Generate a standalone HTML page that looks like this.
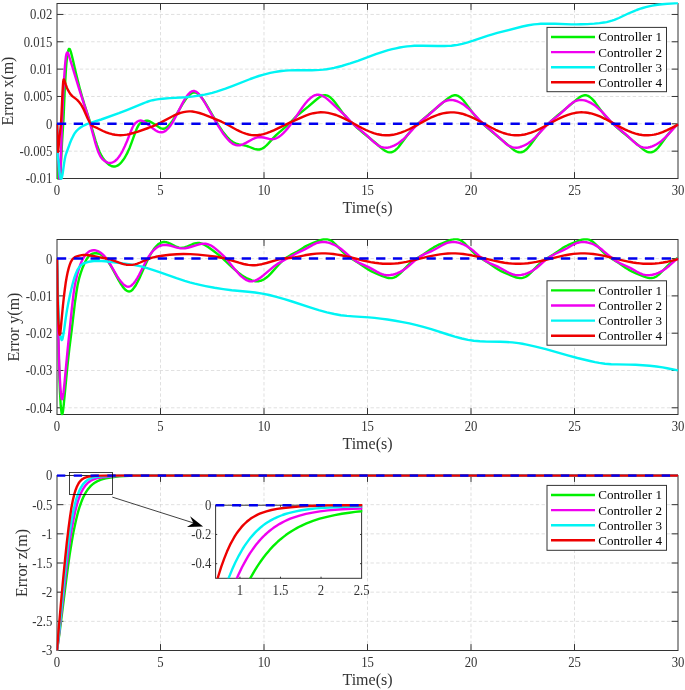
<!DOCTYPE html>
<html><head><meta charset="utf-8"><title>Tracking errors</title>
<style>html,body{margin:0;padding:0;background:#fff}body{width:685px;height:690px;overflow:hidden}</style></head>
<body>
<svg width="685" height="690" viewBox="0 0 685 690" style="display:block;font-family:'Liberation Serif',serif">
<rect width="685" height="690" fill="#fff"/>
<defs>
<clipPath id="cp0"><rect x="56.50" y="2.30" width="622.50" height="177.40"/></clipPath>
<clipPath id="cp1"><rect x="56.50" y="238.30" width="622.50" height="177.40"/></clipPath>
<clipPath id="cp2"><rect x="56.50" y="474.30" width="622.50" height="177.40"/></clipPath>
<clipPath id="cpi"><rect x="215.10" y="503.90" width="147.20" height="74.40"/></clipPath>
</defs>
<path d="M160.50 3.50V178.50M264.00 3.50V178.50M367.50 3.50V178.50M471.00 3.50V178.50M574.50 3.50V178.50M57.00 14.44H678.00M57.00 41.78H678.00M57.00 69.12H678.00M57.00 96.47H678.00M57.00 123.81H678.00M57.00 151.16H678.00" stroke="#d2d2d2" stroke-width="0.7" stroke-dasharray="3.4 2.3" fill="none"/>
<rect x="57.00" y="3.50" width="621.00" height="175.00" fill="none" stroke="#333333" stroke-width="1"/>
<path d="M160.50 178.50v-6.4M160.50 3.50v6.4M264.00 178.50v-6.4M264.00 3.50v6.4M367.50 178.50v-6.4M367.50 3.50v6.4M471.00 178.50v-6.4M471.00 3.50v6.4M574.50 178.50v-6.4M574.50 3.50v6.4M57.00 14.44h6.4M678.00 14.44h-6.4M57.00 41.78h6.4M678.00 41.78h-6.4M57.00 69.12h6.4M678.00 69.12h-6.4M57.00 96.47h6.4M678.00 96.47h-6.4M57.00 123.81h6.4M678.00 123.81h-6.4M57.00 151.16h6.4M678.00 151.16h-6.4" stroke="#333333" stroke-width="1" fill="none"/>
<g clip-path="url(#cp0)" fill="none" stroke-width="2.40" stroke-linejoin="round">
<path d="M57.0 123.8L58.0 165.8L58.5 181.0L59.0 190.0L59.2 192.0L59.5 191.8L59.7 189.3L60.0 185.1L61.0 163.0L62.0 143.0L63.5 119.2L64.7 91.1L65.7 73.1L66.4 63.4L66.9 58.5L67.4 54.6L68.2 50.7L68.7 49.4L68.9 49.0L69.2 48.9L69.4 48.9L69.7 49.1L70.2 50.1L70.7 51.4L71.2 53.1L72.7 59.0L75.9 73.0L77.9 81.1L80.1 89.7L82.1 96.8L84.3 104.2L90.1 122.2L95.5 140.5L97.0 145.1L98.3 148.6L99.7 152.2L101.5 155.7L103.2 158.5L105.0 160.8L106.0 161.9L107.2 163.1L108.4 164.2L109.4 164.9L110.4 165.5L111.4 166.0L112.4 166.3L113.4 166.5L114.9 166.5L116.1 166.2L117.4 165.6L118.9 164.7L120.1 163.6L121.6 162.0L123.1 160.1L124.6 157.9L125.8 155.7L127.1 153.4L128.3 150.8L129.6 147.9L131.5 142.9L135.3 132.4L137.0 128.1L137.8 126.6L138.5 125.3L139.3 124.3L140.0 123.5L140.7 122.9L141.5 122.5L145.0 121.0L146.5 120.7L147.7 120.7L149.2 121.1L150.9 122.0L154.2 124.0L159.1 127.3L160.1 127.9L161.1 128.3L162.4 128.7L163.6 128.7L164.6 128.5L165.8 128.0L167.3 126.9L168.8 125.4L170.3 123.7L172.1 121.4L175.3 116.4L183.2 103.0L185.2 100.0L187.0 97.6L189.0 95.4L190.7 93.8L191.7 93.2L192.4 92.9L193.2 92.6L193.9 92.5L194.9 92.5L195.7 92.6L196.7 93.0L197.7 93.6L198.6 94.4L199.6 95.3L200.6 96.4L201.9 97.9L203.9 100.7L206.3 104.6L216.3 121.6L218.5 125.3L220.8 128.7L223.2 132.3L225.5 135.1L227.7 137.7L229.7 139.6L231.4 141.1L232.9 142.1L234.4 142.9L236.2 143.6L238.9 144.4L244.1 145.4L246.4 145.9L248.3 146.5L254.3 148.8L256.0 149.3L257.8 149.5L259.5 149.5L261.3 149.0L263.0 148.2L265.0 146.7L266.5 145.4L268.0 143.9L273.9 137.4L276.4 134.8L279.2 132.3L285.4 127.1L287.9 124.9L290.1 122.8L295.3 117.4L297.8 115.0L308.5 106.4L315.9 100.0L318.4 98.0L320.2 96.8L321.7 96.0L323.1 95.5L324.6 95.2L325.6 95.3L326.4 95.4L327.4 95.6L328.1 96.0L329.9 97.0L331.8 98.8L333.3 100.4L335.1 102.5L342.0 112.0L344.0 114.6L345.8 116.6L348.0 119.1L350.2 121.3L353.0 123.9L356.9 127.5L363.6 133.3L373.8 141.5L380.8 147.5L383.0 149.3L384.8 150.6L386.5 151.5L388.0 152.1L389.5 152.4L390.5 152.4L391.2 152.3L392.2 152.0L393.0 151.7L394.7 150.7L395.7 149.9L396.7 149.0L398.2 147.5L399.9 145.3L407.1 135.5L409.1 133.0L411.1 130.6L413.3 128.2L415.6 126.0L422.3 119.9L428.8 114.3L438.9 106.0L445.7 100.2L447.9 98.4L449.6 97.2L451.4 96.2L452.9 95.6L454.4 95.3L455.3 95.2L456.3 95.3L457.3 95.6L458.1 95.9L459.8 97.0L461.8 98.7L463.3 100.3L465.0 102.4L472.2 112.2L474.2 114.8L476.0 116.8L478.2 119.3L480.4 121.5L483.2 124.0L487.4 127.8L493.9 133.4L503.8 141.5L510.8 147.4L513.0 149.3L514.7 150.5L516.2 151.4L517.7 152.0L519.2 152.3L520.2 152.4L520.9 152.3L522.4 152.0L523.2 151.7L524.2 151.1L525.9 149.8L527.9 147.8L529.9 145.5L536.9 136.0L539.8 132.2L542.8 128.8L546.3 125.3L550.8 121.3L557.5 115.4L569.2 105.9L577.4 98.9L579.1 97.6L580.8 96.5L582.3 95.8L583.8 95.4L584.8 95.2L585.6 95.2L586.3 95.3L587.3 95.6L588.0 95.9L589.0 96.4L590.0 97.1L591.0 97.9L592.8 99.6L594.8 101.9L596.7 104.6L601.7 111.4L604.7 115.3L607.7 118.6L610.9 121.9L615.4 126.0L622.3 132.0L626.1 135.2L634.0 141.6L642.0 148.4L643.7 149.8L645.2 150.8L646.7 151.6L647.9 152.0L649.2 152.3L650.2 152.4L651.2 152.3L652.2 152.1L653.2 151.7L654.1 151.2L655.1 150.5L656.4 149.5L658.1 147.7L660.1 145.3L666.8 136.1L670.0 132.0L671.8 130.0L673.8 127.9L678.0 123.8" stroke="#00f000"/>
<path d="M57.0 123.8L57.5 141.9L58.0 154.8L59.0 172.4L59.5 179.7L59.7 181.7L60.0 181.3L60.2 178.1L60.5 172.5L61.7 131.4L62.5 110.3L63.2 93.7L64.0 79.7L65.0 65.4L65.7 58.3L65.9 56.6L66.4 54.2L66.9 52.9L67.2 52.6L67.4 52.5L67.7 52.7L68.2 53.5L68.9 55.5L79.4 89.8L87.6 115.2L90.3 124.5L95.3 142.8L96.8 147.7L98.0 151.2L99.0 153.6L100.2 156.1L101.5 158.0L102.7 159.4L104.2 160.7L106.0 161.8L107.7 162.6L109.2 162.9L110.7 162.9L111.9 162.6L113.4 162.0L114.7 161.3L116.1 160.0L117.4 158.8L118.6 157.3L119.9 155.5L121.1 153.5L122.4 151.3L124.8 146.2L127.1 141.0L130.8 131.5L132.5 127.5L133.5 125.7L134.3 124.5L135.0 123.5L136.0 122.6L137.5 121.5L138.5 121.0L139.3 120.7L140.0 120.6L140.7 120.5L141.5 120.6L142.2 120.8L143.7 121.4L145.7 122.7L147.7 124.2L153.7 129.1L155.7 130.5L157.4 131.4L158.4 131.8L159.4 132.1L160.4 132.3L161.1 132.3L162.1 132.2L162.9 132.1L163.6 131.8L164.6 131.4L166.3 130.2L168.1 128.5L169.8 126.5L171.8 123.6L173.3 121.1L175.0 118.0L180.8 106.6L182.7 102.9L184.7 99.4L186.7 96.3L188.5 94.1L190.2 92.4L191.2 91.8L191.9 91.4L192.7 91.1L193.4 91.0L194.2 91.0L195.2 91.3L195.9 91.6L196.9 92.2L197.9 93.1L198.9 94.1L199.9 95.3L201.1 96.9L203.1 99.9L205.6 104.0L215.3 120.9L219.0 127.1L222.7 132.9L226.0 137.2L227.5 139.0L229.0 140.6L230.5 142.0L231.9 143.2L233.4 144.1L234.7 144.7L235.9 145.1L237.4 145.4L238.7 145.4L239.9 145.2L241.4 144.9L242.9 144.3L245.9 142.9L251.1 140.0L253.3 138.8L255.6 137.9L257.5 137.3L259.5 137.1L261.5 137.2L263.5 137.5L269.2 138.9L270.7 139.1L272.2 139.2L273.7 139.0L275.4 138.6L276.9 138.0L278.7 137.0L280.9 135.4L283.1 133.4L285.4 131.0L287.9 128.1L290.1 125.2L292.3 122.1L299.8 111.1L302.5 107.2L305.3 103.6L307.7 100.7L310.2 98.3L311.5 97.3L312.7 96.4L313.9 95.7L315.2 95.1L316.4 94.8L317.4 94.7L318.4 94.7L319.7 94.9L320.7 95.1L321.9 95.6L323.1 96.2L324.4 96.9L327.1 98.9L330.8 102.1L343.3 113.8L346.3 116.7L350.7 121.5L353.5 124.2L356.4 126.8L362.4 131.6L365.1 133.9L367.9 136.4L372.8 141.1L374.8 142.8L377.6 144.9L378.8 145.7L380.0 146.4L381.0 146.8L382.3 147.2L383.5 147.5L384.8 147.6L386.5 147.7L388.2 147.5L390.0 147.1L392.0 146.4L394.0 145.6L396.0 144.6L397.9 143.4L399.9 142.0L402.7 139.8L405.4 137.3L408.1 134.4L414.6 127.3L418.3 123.6L421.5 120.8L427.5 116.0L430.2 113.7L432.7 111.4L437.7 106.7L439.9 104.7L442.4 102.8L443.7 102.0L444.9 101.3L446.2 100.8L447.1 100.5L448.4 100.2L449.6 100.0L451.4 100.0L453.1 100.1L454.8 100.5L456.8 101.1L458.8 102.0L460.8 103.0L462.8 104.1L464.8 105.5L467.5 107.7L470.5 110.4L473.0 113.0L479.7 120.4L483.4 124.1L486.7 126.9L492.4 131.5L495.1 133.8L504.8 142.7L507.3 144.7L508.5 145.5L509.8 146.2L512.0 147.1L513.2 147.4L514.5 147.6L516.2 147.7L518.0 147.5L519.7 147.2L521.7 146.5L523.7 145.7L525.9 144.6L527.9 143.5L529.9 142.1L532.6 139.9L535.6 137.1L538.1 134.5L544.6 127.4L548.3 123.7L551.5 120.8L557.5 116.1L560.2 113.8L569.7 105.0L572.1 103.1L573.4 102.2L574.6 101.5L576.9 100.6L577.9 100.3L579.1 100.1L580.8 99.9L582.6 100.1L584.6 100.4L586.6 101.0L588.5 101.8L590.8 102.9L593.0 104.2L595.0 105.6L597.7 107.8L600.5 110.3L603.0 112.9L610.4 121.1L612.9 123.5L615.1 125.6L625.1 133.7L627.8 136.2L633.3 141.3L636.0 143.7L637.7 145.0L639.5 146.0L641.2 146.8L643.0 147.4L644.7 147.6L646.4 147.7L648.2 147.5L650.2 147.0L652.2 146.4L654.4 145.4L656.6 144.3L658.6 143.0L660.4 141.8L661.8 140.6L665.1 137.7L668.1 134.6L674.5 127.5L678.0 124.0" stroke="#f000f0"/>
<path d="M57.0 123.8L57.5 151.6L57.7 157.2L58.0 158.9L58.2 159.4L58.5 160.7L59.5 171.9L60.0 176.2L60.5 178.4L60.7 178.9L61.0 179.1L61.2 179.0L61.5 178.6L61.7 178.0L62.2 176.1L62.7 173.3L64.2 162.6L64.7 159.6L65.4 156.2L66.4 153.0L69.9 143.3L71.4 139.6L72.7 137.0L73.9 134.6L75.1 132.7L76.6 130.8L78.1 129.4L80.1 127.8L82.1 126.5L84.3 125.3L86.8 124.2L90.5 122.9L101.2 119.5L118.9 113.2L126.8 110.1L143.2 103.3L146.7 102.0L149.9 100.9L152.7 100.2L155.7 99.6L158.9 99.1L162.6 98.7L169.6 98.1L185.5 97.2L193.4 96.4L200.9 95.3L204.6 94.6L208.1 93.8L212.3 92.8L216.5 91.6L221.0 90.2L225.5 88.7L232.9 85.9L250.3 79.0L254.8 77.4L258.8 76.0L262.8 74.8L266.5 73.8L270.2 72.9L274.2 72.1L277.9 71.5L281.6 71.0L285.4 70.6L289.1 70.4L296.1 70.2L312.0 70.2L315.9 70.1L319.7 69.9L323.1 69.6L326.6 69.2L330.3 68.6L334.1 67.9L337.8 67.0L341.8 66.0L346.0 64.7L350.2 63.4L357.9 60.8L375.8 54.2L384.3 51.4L388.2 50.2L392.2 49.2L396.0 48.3L399.7 47.5L403.4 46.9L407.1 46.4L410.6 46.1L414.3 45.8L418.1 45.7L422.3 45.7L437.9 46.0L444.7 46.0L448.1 45.9L451.4 45.7L454.6 45.3L457.6 44.9L462.3 43.9L467.8 42.4L473.2 40.7L488.1 35.6L492.4 34.3L497.3 32.9L522.4 26.5L528.4 25.3L533.9 24.4L537.3 24.1L540.8 23.8L544.6 23.7L548.3 23.6L555.0 23.7L571.6 24.4L576.4 24.4L581.1 24.3L587.5 24.1L594.3 23.6L599.5 23.1L603.9 22.5L606.7 22.1L609.4 21.4L611.9 20.7L614.4 19.9L618.9 18.0L628.3 13.5L633.5 11.3L636.7 10.0L639.7 8.9L642.7 8.0L645.7 7.2L648.9 6.4L652.4 5.6L655.9 5.0L659.6 4.5L667.3 3.7L678.0 3.0" stroke="#00f4f4"/>
<path d="M57.0 123.8L57.5 144.0L57.7 149.7L58.0 151.9L58.2 151.1L59.7 135.5L60.7 126.4L61.0 123.2L61.5 114.1L62.5 92.3L63.0 84.2L63.2 81.7L63.5 80.1L63.7 79.4L64.0 79.4L64.2 79.8L65.7 84.4L66.9 87.7L67.9 89.9L69.2 92.2L70.4 94.1L71.7 95.5L72.9 96.6L75.9 98.9L77.4 100.1L79.1 102.0L80.6 103.9L82.1 106.4L83.6 109.3L87.8 118.7L89.1 121.3L90.3 123.5L91.5 125.0L92.5 125.9L93.5 126.5L97.5 128.2L103.0 131.0L106.2 132.4L109.2 133.4L112.2 134.2L115.1 134.8L118.1 135.1L120.4 135.2L122.4 135.1L124.6 134.9L126.8 134.6L129.1 134.2L131.5 133.5L137.3 131.8L148.2 128.0L151.9 126.6L155.4 125.1L160.6 122.6L172.1 116.5L174.8 115.2L177.5 114.0L180.5 112.9L183.5 112.1L186.5 111.6L189.2 111.4L190.7 111.4L192.4 111.5L195.7 112.1L199.4 113.0L203.6 114.4L214.3 118.6L221.5 121.7L226.7 124.3L237.4 130.2L239.9 131.4L242.4 132.5L245.6 133.7L248.6 134.5L251.6 135.1L254.3 135.3L257.3 135.2L260.3 134.8L263.5 134.1L266.7 133.1L270.0 131.9L273.7 130.3L289.8 122.6L302.8 116.8L305.7 115.6L309.7 114.2L313.5 113.2L317.2 112.6L320.7 112.3L324.4 112.4L328.1 112.9L332.1 113.8L336.1 115.0L340.0 116.6L344.5 118.6L349.0 121.0L361.9 128.0L365.9 130.0L369.4 131.5L373.6 133.1L377.8 134.3L381.8 135.0L385.5 135.3L389.2 135.2L393.0 134.8L396.9 133.9L400.9 132.7L405.1 131.0L409.6 129.0L414.1 126.6L426.8 119.7L430.7 117.7L434.5 116.1L438.7 114.5L442.7 113.4L446.6 112.7L450.4 112.4L454.1 112.4L456.1 112.6L458.1 112.9L462.1 113.7L466.0 115.0L470.3 116.6L474.7 118.7L479.2 121.0L491.6 127.8L495.6 129.8L499.1 131.4L503.3 133.0L507.3 134.1L511.0 134.9L514.7 135.2L516.7 135.3L518.7 135.2L520.7 135.1L522.7 134.8L524.7 134.5L526.9 133.9L531.1 132.6L535.4 131.0L539.8 128.9L544.3 126.5L556.7 119.8L560.5 117.9L563.9 116.3L567.9 114.8L571.9 113.6L575.6 112.8L579.3 112.4L581.3 112.3L583.6 112.4L585.6 112.5L587.8 112.8L589.8 113.2L592.0 113.7L594.3 114.3L596.5 115.1L600.5 116.7L604.9 118.8L609.4 121.1L621.3 127.6L624.8 129.4L628.1 130.9L631.8 132.4L635.5 133.6L639.0 134.5L642.2 135.0L644.2 135.2L646.2 135.3L648.2 135.3L650.2 135.1L652.2 134.9L654.1 134.6L656.1 134.2L658.4 133.6L662.6 132.1L667.1 130.2L671.8 127.9L678.0 124.6" stroke="#ee0000"/>
<path d="M57.00 123.81H678.00" stroke="#0000ee" stroke-width="2.5" stroke-dashoffset="0.1" stroke-dasharray="9.3 7.5"/>
</g>
<g font-size="13.4" fill="#333333">
<text transform="translate(57.00 195.00) scale(0.95 1.06)" text-anchor="middle">0</text>
<text transform="translate(160.50 195.00) scale(0.95 1.06)" text-anchor="middle">5</text>
<text transform="translate(264.00 195.00) scale(0.95 1.06)" text-anchor="middle">10</text>
<text transform="translate(367.50 195.00) scale(0.95 1.06)" text-anchor="middle">15</text>
<text transform="translate(471.00 195.00) scale(0.95 1.06)" text-anchor="middle">20</text>
<text transform="translate(574.50 195.00) scale(0.95 1.06)" text-anchor="middle">25</text>
<text transform="translate(678.00 195.00) scale(0.95 1.06)" text-anchor="middle">30</text>
<text transform="translate(52.30 19.34) scale(0.95 1.06)" text-anchor="end">0.02</text>
<text transform="translate(52.30 46.68) scale(0.95 1.06)" text-anchor="end">0.015</text>
<text transform="translate(52.30 74.02) scale(0.95 1.06)" text-anchor="end">0.01</text>
<text transform="translate(52.30 101.37) scale(0.95 1.06)" text-anchor="end">0.005</text>
<text transform="translate(52.30 128.71) scale(0.95 1.06)" text-anchor="end">0</text>
<text transform="translate(52.30 156.06) scale(0.95 1.06)" text-anchor="end">-0.005</text>
<text transform="translate(52.30 183.40) scale(0.95 1.06)" text-anchor="end">-0.01</text>
</g>
<text x="367.50" y="212.90" text-anchor="middle" font-size="16" fill="#333333">Time(s)</text>
<text transform="translate(13.30 91.00) rotate(-90)" text-anchor="middle" font-size="16" fill="#333333">Error x(m)</text>
<rect x="547.00" y="27.40" width="119.50" height="64.30" fill="#fff" stroke="#333333" stroke-width="1"/>
<path d="M551.00 37.00H595.00" stroke="#00f000" stroke-width="2.40"/>
<text x="598.30" y="41.40" font-size="13.1" fill="#000">Controller 1</text>
<path d="M551.00 52.10H595.00" stroke="#f000f0" stroke-width="2.40"/>
<text x="598.30" y="56.50" font-size="13.1" fill="#000">Controller 2</text>
<path d="M551.00 67.20H595.00" stroke="#00f4f4" stroke-width="2.40"/>
<text x="598.30" y="71.60" font-size="13.1" fill="#000">Controller 3</text>
<path d="M551.00 82.30H595.00" stroke="#ee0000" stroke-width="2.40"/>
<text x="598.30" y="86.70" font-size="13.1" fill="#000">Controller 4</text>
<path d="M160.50 239.50V414.50M264.00 239.50V414.50M367.50 239.50V414.50M471.00 239.50V414.50M574.50 239.50V414.50M57.00 258.60H678.00M57.00 295.89H678.00M57.00 333.19H678.00M57.00 370.49H678.00M57.00 407.79H678.00" stroke="#d2d2d2" stroke-width="0.7" stroke-dasharray="3.4 2.3" fill="none"/>
<rect x="57.00" y="239.50" width="621.00" height="175.00" fill="none" stroke="#333333" stroke-width="1"/>
<path d="M160.50 414.50v-6.4M160.50 239.50v6.4M264.00 414.50v-6.4M264.00 239.50v6.4M367.50 414.50v-6.4M367.50 239.50v6.4M471.00 414.50v-6.4M471.00 239.50v6.4M574.50 414.50v-6.4M574.50 239.50v6.4M57.00 258.60h6.4M678.00 258.60h-6.4M57.00 295.89h6.4M678.00 295.89h-6.4M57.00 333.19h6.4M678.00 333.19h-6.4M57.00 370.49h6.4M678.00 370.49h-6.4M57.00 407.79h6.4M678.00 407.79h-6.4" stroke="#333333" stroke-width="1" fill="none"/>
<g clip-path="url(#cp1)" fill="none" stroke-width="2.40" stroke-linejoin="round">
<path d="M57.0 258.6L58.2 332.6L58.7 354.6L59.5 379.7L60.0 392.2L60.7 405.2L61.0 408.2L61.5 412.4L61.7 413.5L62.0 414.1L62.2 414.1L62.5 413.6L63.0 411.2L63.7 405.2L67.4 366.4L69.4 348.1L71.7 330.1L74.9 302.9L76.4 292.3L77.6 285.1L78.4 281.5L79.1 278.4L80.6 273.3L82.8 267.2L84.1 264.2L85.1 262.1L86.1 260.2L87.1 258.5L87.8 257.5L88.8 256.3L89.8 255.3L91.0 254.4L92.0 253.9L93.3 253.5L94.8 253.3L96.3 253.2L98.0 253.5L99.5 253.9L101.0 254.6L102.5 255.5L104.0 256.7L105.2 257.9L106.2 259.0L107.4 260.6L109.9 264.4L112.4 268.7L118.9 280.6L120.6 283.5L122.4 286.2L124.1 288.4L125.1 289.5L125.8 290.1L126.8 290.8L127.6 291.2L128.3 291.4L129.1 291.5L129.8 291.4L130.6 291.1L131.3 290.7L132.3 289.9L133.0 289.1L134.0 287.8L135.8 285.2L137.5 282.0L139.3 278.4L145.7 264.0L148.2 258.8L150.9 253.7L153.4 249.8L154.9 247.8L156.2 246.3L157.4 245.1L158.6 244.0L159.9 243.2L161.1 242.6L162.4 242.2L163.6 242.0L164.6 242.0L165.6 242.1L166.6 242.3L167.8 242.7L170.1 243.6L175.0 246.1L177.0 247.0L179.0 247.6L181.0 247.9L183.0 247.8L185.2 247.2L187.5 246.4L192.9 244.0L194.7 243.4L196.2 243.1L197.9 242.9L199.4 243.0L200.9 243.4L202.6 244.0L205.1 245.2L208.1 247.1L213.3 250.8L218.0 254.4L221.0 256.8L223.7 259.3L232.2 267.3L235.4 270.2L238.4 272.7L241.4 274.9L243.4 276.2L245.6 277.5L247.8 278.7L250.1 279.7L251.8 280.4L253.6 280.9L255.3 281.3L256.8 281.4L258.0 281.3L259.0 281.2L260.3 280.9L261.5 280.5L262.8 279.9L264.0 279.3L266.5 277.5L268.5 275.8L270.7 273.6L278.4 265.0L281.6 261.7L283.4 260.0L284.9 258.8L286.6 257.5L288.4 256.4L290.8 254.9L297.3 251.5L299.0 250.4L303.8 247.4L306.0 246.1L308.2 245.0L313.2 242.8L319.7 240.3L322.4 239.5L323.6 239.2L324.9 239.1L326.9 239.2L328.6 239.6L330.3 240.3L332.1 241.3L333.6 242.5L335.3 244.1L342.8 251.8L345.0 253.9L347.0 255.6L350.0 257.7L358.2 262.7L365.9 268.0L368.6 269.7L371.1 271.1L373.8 272.5L377.1 273.9L382.5 276.1L384.8 276.9L386.8 277.6L388.5 278.0L390.0 278.1L392.0 278.0L393.7 277.6L395.5 276.9L397.2 275.8L398.7 274.6L400.2 273.3L401.9 271.6L407.9 265.3L410.1 263.2L412.1 261.5L415.1 259.4L423.3 254.4L430.7 249.3L433.7 247.4L436.2 246.0L438.9 244.7L442.2 243.3L447.4 241.2L449.9 240.2L451.6 239.7L453.4 239.3L454.8 239.1L456.8 239.1L458.6 239.5L460.3 240.2L462.1 241.3L463.5 242.4L465.3 244.0L473.0 252.0L475.2 254.1L477.2 255.7L480.4 258.0L488.6 263.0L495.8 267.9L498.6 269.7L501.1 271.1L503.8 272.4L506.8 273.7L512.0 275.9L514.5 276.8L516.5 277.5L518.2 277.9L519.7 278.1L521.7 278.1L523.4 277.7L525.2 277.0L527.2 275.9L528.7 274.7L530.4 273.1L538.1 265.1L540.1 263.3L542.1 261.6L545.1 259.5L553.3 254.5L560.7 249.4L563.4 247.6L565.7 246.3L567.9 245.2L573.9 242.6L577.9 241.0L580.3 240.1L582.3 239.5L584.1 239.2L586.1 239.1L587.0 239.2L588.0 239.4L589.0 239.7L590.0 240.1L592.0 241.2L593.5 242.3L595.2 243.9L597.0 245.6L603.0 251.9L605.2 254.0L607.2 255.6L610.2 257.7L618.4 262.8L625.8 267.9L628.5 269.6L632.3 271.7L636.7 273.7L644.2 276.7L646.4 277.4L648.2 277.9L649.4 278.1L650.7 278.1L651.9 278.0L652.9 277.9L653.9 277.6L654.9 277.2L655.9 276.7L657.1 275.9L658.9 274.6L660.6 273.0L667.3 266.0L670.3 263.1L672.0 261.7L673.8 260.4L678.0 257.7" stroke="#00f000"/>
<path d="M57.0 258.6L58.2 328.2L58.7 348.4L59.2 364.1L59.7 376.1L60.5 388.6L61.2 396.2L61.7 398.7L62.0 399.2L62.2 399.2L62.5 398.6L62.7 397.6L63.5 392.5L64.5 383.0L67.7 348.9L71.9 307.8L73.6 293.4L74.6 286.8L75.6 281.4L77.1 274.9L78.9 268.8L80.6 263.9L81.6 261.6L82.6 259.5L83.6 257.7L84.6 256.1L85.6 254.8L86.8 253.4L88.1 252.3L89.3 251.4L90.5 250.8L91.8 250.5L93.3 250.3L94.8 250.3L96.3 250.6L97.8 251.1L99.2 251.8L100.7 252.7L102.2 253.9L103.5 255.1L105.7 257.6L108.2 261.1L110.7 265.0L117.1 276.1L119.1 279.1L120.9 281.5L122.9 283.8L124.6 285.3L125.6 285.9L126.3 286.3L127.3 286.6L128.1 286.7L129.1 286.6L129.8 286.4L130.6 286.0L131.5 285.4L132.5 284.5L133.5 283.5L135.5 280.9L137.3 278.1L139.0 275.0L145.0 263.2L147.2 259.0L148.4 257.0L149.7 255.1L150.9 253.4L152.2 251.8L153.7 250.2L155.2 248.8L156.6 247.7L158.1 246.8L159.6 246.0L161.1 245.5L162.6 245.1L164.4 244.9L166.3 245.0L168.6 245.3L171.1 245.8L176.0 247.3L178.3 247.9L180.5 248.3L182.7 248.4L185.0 248.3L187.7 247.8L190.4 247.0L197.4 244.8L199.4 244.3L201.4 243.9L203.6 243.7L205.6 243.8L207.6 244.2L209.3 244.8L210.6 245.3L211.8 246.0L213.3 247.0L214.8 248.1L219.0 251.6L223.0 255.3L225.5 257.9L227.7 260.4L234.9 269.4L237.4 272.3L239.6 274.8L241.9 276.9L244.4 278.8L246.6 280.2L247.8 280.7L248.8 281.0L250.1 281.3L251.1 281.4L252.8 281.2L254.8 280.7L256.8 279.9L259.0 278.6L261.0 277.2L263.3 275.4L271.0 268.8L273.9 266.4L277.4 263.9L281.4 261.6L295.8 253.7L304.8 249.4L311.5 245.6L313.9 244.3L315.9 243.4L317.9 242.7L319.9 242.3L321.9 242.0L323.4 242.0L325.1 242.1L326.6 242.3L328.4 242.7L330.1 243.2L331.8 243.8L335.1 245.2L337.8 246.8L340.8 248.8L343.8 251.2L349.2 256.0L351.7 258.1L354.5 260.1L356.9 261.7L360.2 263.4L365.9 265.9L368.6 267.2L371.4 268.6L377.1 271.9L380.0 273.4L382.0 274.2L383.8 274.7L385.5 275.0L387.3 275.2L388.7 275.2L390.2 275.1L391.7 274.8L393.5 274.5L395.2 274.0L396.9 273.4L400.2 271.9L402.9 270.4L405.9 268.3L408.9 265.9L414.3 261.1L416.8 259.0L419.3 257.2L421.8 255.6L425.0 253.9L431.0 251.3L433.7 250.0L436.5 248.5L442.2 245.3L444.9 243.9L446.6 243.2L448.4 242.6L450.1 242.3L451.9 242.1L453.4 242.0L455.1 242.1L456.6 242.3L458.3 242.7L460.1 243.2L461.8 243.8L463.5 244.5L465.3 245.3L468.0 246.9L471.0 248.9L474.0 251.3L479.4 256.1L481.7 258.0L484.4 260.1L486.9 261.6L490.1 263.3L496.1 265.9L498.8 267.2L501.6 268.7L507.0 271.8L509.8 273.2L511.5 273.9L513.2 274.5L515.0 274.9L516.7 275.1L518.2 275.2L520.0 275.1L521.4 274.9L523.2 274.5L524.9 274.1L526.9 273.4L528.7 272.7L530.4 271.9L533.1 270.3L536.1 268.2L538.8 266.0L544.3 261.2L546.8 259.1L549.3 257.3L551.8 255.7L555.0 254.0L561.2 251.2L563.9 249.9L566.7 248.5L572.1 245.3L574.9 243.9L576.6 243.2L578.1 242.7L579.6 242.4L581.3 242.1L582.8 242.0L584.6 242.1L586.3 242.3L588.0 242.6L589.8 243.1L591.8 243.7L593.8 244.5L595.5 245.4L598.2 246.9L601.2 249.0L603.9 251.3L611.7 257.9L614.1 259.8L616.6 261.4L620.1 263.3L626.3 266.0L629.0 267.3L631.5 268.6L637.0 271.8L639.5 273.1L641.0 273.7L642.5 274.3L644.0 274.7L645.2 274.9L646.9 275.1L648.7 275.2L650.4 275.0L652.4 274.7L654.4 274.3L656.4 273.6L658.4 272.8L660.4 271.9L663.3 270.2L666.6 267.9L669.3 265.7L675.3 260.4L678.0 258.2" stroke="#f000f0"/>
<path d="M57.0 258.6L58.0 298.3L58.7 316.6L59.2 324.3L60.0 332.4L60.5 335.9L61.0 338.4L61.5 339.7L61.7 340.0L62.0 339.9L62.2 339.5L62.5 338.9L63.2 335.5L64.0 330.8L65.7 318.4L66.9 310.6L68.4 302.5L70.4 293.0L72.4 284.7L74.1 278.5L75.9 273.5L77.4 270.1L78.1 268.8L79.1 267.3L79.9 266.4L80.9 265.4L81.8 264.5L82.8 263.9L83.8 263.4L85.3 262.8L86.8 262.3L88.6 261.8L90.3 261.5L92.0 261.2L94.0 261.0L96.5 260.9L101.5 261.0L105.0 261.3L109.2 261.7L127.1 263.9L134.5 265.1L141.0 266.4L147.2 268.1L154.2 270.3L160.9 272.6L176.5 278.2L184.7 280.9L189.7 282.4L194.7 283.7L199.9 284.9L205.6 286.1L214.5 287.8L223.2 289.1L231.7 290.2L248.1 291.7L255.1 292.5L262.3 293.6L269.2 295.0L276.4 296.8L284.4 299.1L292.1 301.5L310.0 307.4L318.7 310.1L326.9 312.3L334.3 314.0L340.8 315.2L347.0 315.9L353.0 316.4L368.9 317.4L374.6 317.9L380.5 318.6L387.5 319.5L395.2 320.8L402.7 322.1L409.4 323.4L416.6 325.1L423.3 326.9L431.2 329.2L447.9 334.5L454.8 336.6L461.8 338.5L468.0 339.9L473.7 340.8L479.9 341.3L486.7 341.6L500.3 341.8L506.3 342.0L512.3 342.4L518.5 343.1L522.4 343.8L526.7 344.6L535.6 346.6L545.8 349.2L567.7 355.4L577.4 358.0L590.0 361.0L595.0 362.1L599.2 362.9L604.9 363.7L611.2 364.2L616.9 364.4L629.0 364.6L635.5 364.8L642.7 365.2L649.7 365.8L656.4 366.5L662.6 367.4L667.1 368.2L678.0 370.4" stroke="#00f4f4"/>
<path d="M57.0 258.6L57.7 299.7L58.2 317.6L58.5 323.5L59.0 330.9L59.2 333.1L59.5 334.3L59.7 334.7L60.0 334.4L60.2 333.3L60.7 329.3L63.0 305.0L64.0 295.8L65.0 288.0L65.7 282.8L66.7 277.0L67.7 272.1L68.7 268.1L69.7 264.9L70.9 261.8L71.9 260.1L72.4 259.4L73.2 258.6L73.9 257.9L74.6 257.4L75.6 256.9L76.9 256.3L79.4 255.6L81.8 255.1L83.3 255.0L85.1 254.9L86.8 255.0L88.6 255.2L91.8 255.8L99.2 257.3L106.7 258.5L108.7 259.0L110.9 259.7L119.1 262.7L122.6 263.8L124.6 264.3L126.3 264.7L128.1 264.9L129.6 264.9L131.3 264.9L133.0 264.7L134.8 264.3L136.8 263.8L140.2 262.5L146.7 259.6L149.2 258.6L152.2 257.6L155.7 256.8L162.1 255.7L169.6 254.8L176.8 254.2L183.5 254.0L190.4 254.1L198.1 254.6L207.6 255.6L216.3 256.7L221.3 257.7L225.7 258.7L229.5 259.8L238.9 262.7L243.6 264.0L246.1 264.5L248.3 264.9L250.6 265.1L252.8 265.2L254.8 265.2L257.0 265.0L259.3 264.6L261.8 264.2L266.5 263.0L277.2 259.9L280.2 259.2L282.6 258.7L285.6 258.3L292.3 257.7L295.3 257.3L297.3 256.9L304.8 255.3L311.0 254.2L316.4 253.6L321.7 253.4L325.4 253.4L329.4 253.6L333.3 254.0L337.3 254.6L341.3 255.3L345.8 256.2L363.2 260.5L370.6 262.1L374.8 262.8L378.8 263.3L382.8 263.7L386.5 263.8L390.2 263.8L394.2 263.6L398.2 263.2L402.2 262.6L406.4 261.9L410.9 260.9L428.0 256.7L435.7 255.1L439.9 254.4L443.9 253.9L447.9 253.5L451.6 253.4L455.3 253.4L459.3 253.6L463.3 254.0L467.3 254.6L471.5 255.3L476.0 256.3L492.9 260.4L500.3 262.0L504.5 262.8L508.5 263.3L512.3 263.6L516.0 263.8L520.0 263.8L523.9 263.6L527.9 263.2L532.1 262.6L536.4 261.9L540.8 261.0L558.0 256.8L565.4 255.2L569.4 254.5L573.4 253.9L577.1 253.6L580.8 253.4L584.8 253.4L589.0 253.6L593.3 254.0L597.7 254.6L601.7 255.4L606.2 256.3L622.6 260.3L629.3 261.8L633.0 262.5L636.5 263.0L640.0 263.4L643.2 263.7L647.2 263.8L651.2 263.8L655.1 263.5L659.1 263.1L663.1 262.5L667.6 261.7L672.3 260.6L678.0 259.2" stroke="#ee0000"/>
<path d="M57.00 258.60H678.00" stroke="#0000ee" stroke-width="2.5" stroke-dashoffset="0.1" stroke-dasharray="9.3 7.5"/>
</g>
<g font-size="13.4" fill="#333333">
<text transform="translate(57.00 431.00) scale(0.95 1.06)" text-anchor="middle">0</text>
<text transform="translate(160.50 431.00) scale(0.95 1.06)" text-anchor="middle">5</text>
<text transform="translate(264.00 431.00) scale(0.95 1.06)" text-anchor="middle">10</text>
<text transform="translate(367.50 431.00) scale(0.95 1.06)" text-anchor="middle">15</text>
<text transform="translate(471.00 431.00) scale(0.95 1.06)" text-anchor="middle">20</text>
<text transform="translate(574.50 431.00) scale(0.95 1.06)" text-anchor="middle">25</text>
<text transform="translate(678.00 431.00) scale(0.95 1.06)" text-anchor="middle">30</text>
<text transform="translate(52.30 263.50) scale(0.95 1.06)" text-anchor="end">0</text>
<text transform="translate(52.30 300.79) scale(0.95 1.06)" text-anchor="end">-0.01</text>
<text transform="translate(52.30 338.09) scale(0.95 1.06)" text-anchor="end">-0.02</text>
<text transform="translate(52.30 375.39) scale(0.95 1.06)" text-anchor="end">-0.03</text>
<text transform="translate(52.30 412.69) scale(0.95 1.06)" text-anchor="end">-0.04</text>
</g>
<text x="367.50" y="448.90" text-anchor="middle" font-size="16" fill="#333333">Time(s)</text>
<text transform="translate(19.30 327.00) rotate(-90)" text-anchor="middle" font-size="16" fill="#333333">Error y(m)</text>
<rect x="547.00" y="280.80" width="119.50" height="64.40" fill="#fff" stroke="#333333" stroke-width="1"/>
<path d="M551.00 290.40H595.00" stroke="#00f000" stroke-width="2.40"/>
<text x="598.30" y="294.80" font-size="13.1" fill="#000">Controller 1</text>
<path d="M551.00 305.50H595.00" stroke="#f000f0" stroke-width="2.40"/>
<text x="598.30" y="309.90" font-size="13.1" fill="#000">Controller 2</text>
<path d="M551.00 320.60H595.00" stroke="#00f4f4" stroke-width="2.40"/>
<text x="598.30" y="325.00" font-size="13.1" fill="#000">Controller 3</text>
<path d="M551.00 335.70H595.00" stroke="#ee0000" stroke-width="2.40"/>
<text x="598.30" y="340.10" font-size="13.1" fill="#000">Controller 4</text>
<path d="M160.50 475.50V650.50M264.00 475.50V650.50M367.50 475.50V650.50M471.00 475.50V650.50M574.50 475.50V650.50M57.00 504.67H678.00M57.00 533.83H678.00M57.00 563.00H678.00M57.00 592.17H678.00M57.00 621.33H678.00" stroke="#d2d2d2" stroke-width="0.7" stroke-dasharray="3.4 2.3" fill="none"/>
<rect x="57.00" y="475.50" width="621.00" height="175.00" fill="none" stroke="#333333" stroke-width="1"/>
<path d="M160.50 650.50v-6.4M160.50 475.50v6.4M264.00 650.50v-6.4M264.00 475.50v6.4M367.50 650.50v-6.4M367.50 475.50v6.4M471.00 650.50v-6.4M471.00 475.50v6.4M574.50 650.50v-6.4M574.50 475.50v6.4M57.00 504.67h6.4M678.00 504.67h-6.4M57.00 533.83h6.4M678.00 533.83h-6.4M57.00 563.00h6.4M678.00 563.00h-6.4M57.00 592.17h6.4M678.00 592.17h-6.4M57.00 621.33h6.4M678.00 621.33h-6.4" stroke="#333333" stroke-width="1" fill="none"/>
<g clip-path="url(#cp2)" fill="none" stroke-width="2.40" stroke-linejoin="round">
<path d="M57.0 650.5L58.2 642.3L59.6 632.5L66.3 579.4L68.1 565.8L69.7 554.4L71.7 542.0L73.6 531.4L75.6 522.0L77.6 513.7L78.7 509.7L79.9 506.0L81.1 502.6L82.3 499.5L83.6 496.6L84.9 494.0L86.3 491.7L87.7 489.6L89.2 487.7L90.8 485.9L92.5 484.4L94.3 483.0L96.2 481.9L98.2 480.8L100.4 479.9L102.8 479.2L105.8 478.4L112.0 477.3L115.4 476.8L119.2 476.4L124.0 476.1L129.7 475.8L145.2 475.6L185.8 475.5L678.0 475.5" stroke="#00f000"/>
<path d="M57.0 650.5L58.2 641.8L59.5 630.7L65.4 576.6L66.9 563.6L68.4 552.0L70.0 539.9L71.7 529.3L73.4 520.1L75.0 512.2L76.0 508.1L77.0 504.4L78.0 500.9L79.1 497.8L80.1 495.0L81.2 492.5L82.4 490.2L83.6 488.1L84.9 486.3L86.2 484.6L87.6 483.2L89.1 481.9L90.7 480.8L92.4 479.9L94.3 479.1L96.4 478.4L99.3 477.7L102.6 477.2L105.5 477.0L108.7 476.8L112.3 476.4L116.1 476.1L121.0 475.9L126.6 475.7L142.5 475.6L678.0 475.5" stroke="#f000f0"/>
<path d="M57.0 650.5L59.1 632.0L64.4 577.6L65.8 564.2L67.1 552.2L68.7 539.7L70.2 529.0L71.8 519.4L73.3 511.2L75.1 503.4L76.1 499.9L77.0 496.9L78.0 494.1L79.0 491.5L80.1 489.1L81.2 487.1L82.3 485.3L83.6 483.6L84.9 482.2L86.3 481.0L87.7 479.9L89.3 479.0L91.0 478.3L92.9 477.7L95.2 477.1L97.7 476.7L100.6 476.4L104.0 476.2L117.9 475.7L135.4 475.5L678.0 475.5" stroke="#00f4f4"/>
<path d="M57.0 650.5L58.7 629.0L60.7 606.0L62.9 581.7L65.0 560.0L66.8 542.7L68.5 528.4L70.0 517.1L71.4 507.8L72.8 500.5L74.3 494.2L75.1 491.5L75.9 489.2L76.7 487.1L77.6 485.2L78.5 483.5L79.4 482.1L80.4 480.9L81.5 479.8L82.6 479.0L83.9 478.2L85.3 477.6L86.8 477.1L88.5 476.7L90.4 476.3L95.0 475.8L100.3 475.6L108.2 475.5L678.0 475.5" stroke="#ee0000"/>
<path d="M57.00 475.50H678.00" stroke="#0000ee" stroke-width="2.5" stroke-dashoffset="0.1" stroke-dasharray="8.4 8.4"/>
</g>
<g font-size="13.4" fill="#333333">
<text transform="translate(57.00 667.00) scale(0.95 1.06)" text-anchor="middle">0</text>
<text transform="translate(160.50 667.00) scale(0.95 1.06)" text-anchor="middle">5</text>
<text transform="translate(264.00 667.00) scale(0.95 1.06)" text-anchor="middle">10</text>
<text transform="translate(367.50 667.00) scale(0.95 1.06)" text-anchor="middle">15</text>
<text transform="translate(471.00 667.00) scale(0.95 1.06)" text-anchor="middle">20</text>
<text transform="translate(574.50 667.00) scale(0.95 1.06)" text-anchor="middle">25</text>
<text transform="translate(678.00 667.00) scale(0.95 1.06)" text-anchor="middle">30</text>
<text transform="translate(52.30 480.40) scale(0.95 1.06)" text-anchor="end">0</text>
<text transform="translate(52.30 509.57) scale(0.95 1.06)" text-anchor="end">-0.5</text>
<text transform="translate(52.30 538.73) scale(0.95 1.06)" text-anchor="end">-1</text>
<text transform="translate(52.30 567.90) scale(0.95 1.06)" text-anchor="end">-1.5</text>
<text transform="translate(52.30 597.07) scale(0.95 1.06)" text-anchor="end">-2</text>
<text transform="translate(52.30 626.23) scale(0.95 1.06)" text-anchor="end">-2.5</text>
<text transform="translate(52.30 655.40) scale(0.95 1.06)" text-anchor="end">-3</text>
</g>
<text x="367.50" y="684.90" text-anchor="middle" font-size="16" fill="#333333">Time(s)</text>
<text transform="translate(26.50 563.00) rotate(-90)" text-anchor="middle" font-size="16" fill="#333333">Error z(m)</text>
<rect x="547.00" y="485.40" width="119.50" height="64.90" fill="#fff" stroke="#333333" stroke-width="1"/>
<path d="M551.00 495.00H595.00" stroke="#00f000" stroke-width="2.40"/>
<text x="598.30" y="499.40" font-size="13.1" fill="#000">Controller 1</text>
<path d="M551.00 510.10H595.00" stroke="#f000f0" stroke-width="2.40"/>
<text x="598.30" y="514.50" font-size="13.1" fill="#000">Controller 2</text>
<path d="M551.00 525.20H595.00" stroke="#00f4f4" stroke-width="2.40"/>
<text x="598.30" y="529.60" font-size="13.1" fill="#000">Controller 3</text>
<path d="M551.00 540.30H595.00" stroke="#ee0000" stroke-width="2.40"/>
<text x="598.30" y="544.70" font-size="13.1" fill="#000">Controller 4</text>
<rect x="69.5" y="472.5" width="43" height="22" fill="none" stroke="#000" stroke-width="0.75"/>
<path d="M112.3 497.1L194 523.1" stroke="#000" stroke-width="0.75" fill="none"/>
<path d="M203.1 526.4L190.1 516.3L193.4 522.9L186.9 527.1Z" fill="#000"/>
<rect x="215.60" y="505.20" width="146.00" height="73.10" fill="#fff"/>
<rect x="215.60" y="505.20" width="146.00" height="73.10" fill="none" stroke="#333333" stroke-width="1"/>
<path d="M239.93 578.30v-1.6M239.93 505.20v1.6M280.49 578.30v-1.6M280.49 505.20v1.6M321.04 578.30v-1.6M321.04 505.20v1.6M215.60 534.44h1.6M361.60 534.44h-1.6M215.60 563.68h1.6M361.60 563.68h-1.6" stroke="#333333" stroke-width="1" fill="none"/>
<g clip-path="url(#cpi)" fill="none" stroke-width="2.40" stroke-linejoin="round">
<path d="M199.4 744.9L203.5 726.0L207.3 708.9L211.2 692.7L215.0 677.3L218.9 662.9L222.5 650.1L226.4 637.5L230.2 625.8L234.1 615.0L238.2 604.5L242.2 594.9L246.3 586.2L250.5 577.9L254.8 570.4L257.0 566.8L259.3 563.4L261.5 560.2L263.7 557.2L266.0 554.3L268.4 551.4L270.6 548.8L273.1 546.2L275.5 543.8L277.9 541.5L280.6 539.2L283.2 537.1L285.8 535.1L288.7 533.1L291.5 531.2L294.4 529.5L297.2 527.9L300.2 526.3L303.3 524.8L306.5 523.4L309.8 522.1L313.0 520.9L319.7 518.7L327.0 516.8L334.7 515.1L341.8 513.8L349.3 512.7L355.2 511.9L361.5 511.3L370.5 510.1L377.8 509.3" stroke="#00f000"/>
<path d="M199.4 717.5L203.1 698.9L206.5 682.3L210.0 666.7L213.4 652.1L216.9 638.5L220.3 625.8L223.8 614.2L227.2 603.5L230.9 593.2L234.5 583.8L238.2 575.3L242.0 567.3L245.9 560.1L247.9 556.7L249.9 553.4L252.0 550.4L254.2 547.2L256.2 544.6L258.4 541.9L260.5 539.5L262.7 537.2L264.9 535.0L267.2 532.9L269.4 531.0L271.8 529.1L274.3 527.3L276.7 525.7L279.3 524.1L282.0 522.6L284.6 521.3L287.5 519.9L290.3 518.7L293.3 517.6L296.4 516.6L299.6 515.6L305.9 513.9L312.6 512.6L319.9 511.4L328.0 510.4L334.9 509.8L342.5 509.2L351.8 508.8L361.5 508.5L369.6 507.9L377.8 507.4" stroke="#f000f0"/>
<path d="M199.4 693.1L202.6 676.2L205.7 661.2L208.7 647.2L212.0 633.3L215.2 620.5L218.5 608.7L221.7 597.9L225.0 588.1L228.4 578.6L231.9 570.1L235.3 562.5L239.0 555.3L242.6 549.0L244.4 546.1L246.5 543.1L248.5 540.4L250.5 537.8L252.6 535.4L254.8 532.9L256.8 530.9L258.9 529.0L260.9 527.2L263.1 525.4L265.3 523.8L267.6 522.3L269.8 520.9L272.2 519.6L274.7 518.3L277.3 517.1L280.0 516.0L282.6 515.0L285.4 514.0L288.5 513.1L294.8 511.6L301.3 510.3L308.4 509.3L316.1 508.4L324.8 507.7L333.5 507.2L343.3 506.8L377.8 506.0" stroke="#00f4f4"/>
<path d="M199.4 662.1L202.2 646.5L205.1 631.7L207.9 617.8L210.6 605.9L213.2 594.8L215.8 584.7L218.5 575.5L221.3 566.6L224.2 558.6L227.0 551.6L230.0 544.9L233.1 539.2L234.7 536.4L236.3 533.9L238.0 531.5L239.6 529.4L241.2 527.4L243.0 525.4L244.9 523.5L246.7 521.8L248.3 520.5L250.1 519.1L252.0 517.8L253.8 516.7L257.6 514.6L259.7 513.7L261.9 512.8L266.4 511.3L271.4 510.0L277.1 508.9L283.4 508.0L290.7 507.2L298.8 506.6L308.0 506.0L318.1 505.7L327.8 505.4L339.0 505.3L377.8 505.2" stroke="#ee0000"/>
<path d="M215.60 505.20H361.60" stroke="#0000ee" stroke-width="2.5" stroke-dashoffset="0.3" stroke-dasharray="9.0 7.8"/>
</g>
<g font-size="13.4" fill="#333333">
<text transform="translate(239.93 594.60) scale(0.95 1.06)" text-anchor="middle">1</text>
<text transform="translate(280.49 594.60) scale(0.95 1.06)" text-anchor="middle">1.5</text>
<text transform="translate(321.04 594.60) scale(0.95 1.06)" text-anchor="middle">2</text>
<text transform="translate(361.60 594.60) scale(0.95 1.06)" text-anchor="middle">2.5</text>
<text transform="translate(211.40 509.70) scale(0.95 1.06)" text-anchor="end">0</text>
<text transform="translate(211.40 538.94) scale(0.95 1.06)" text-anchor="end">-0.2</text>
<text transform="translate(211.40 568.18) scale(0.95 1.06)" text-anchor="end">-0.4</text>
</g>
</svg>
</body></html>
